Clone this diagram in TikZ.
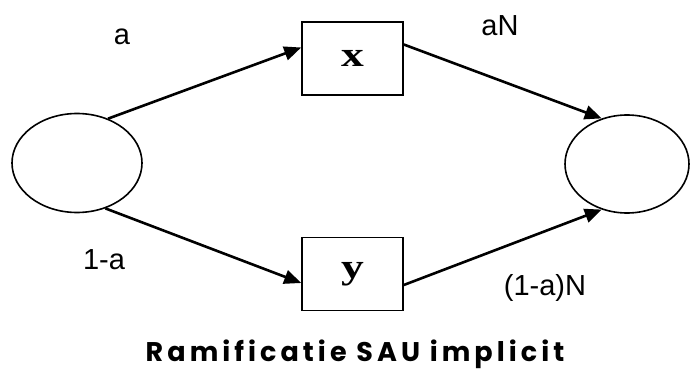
\documentclass[tikz,border=0pt]{standalone}
\usepackage{fontspec}
\usepackage{graphicx}
\setmainfont{Liberation Sans}
\newfontfamily\boxfont{Liberation Serif}
\newfontfamily\titlefont[LetterSpace=15]{Poppins}
\usetikzlibrary{shapes.geometric,arrows.meta}
\newcommand{\wide}[1]{\scalebox{1.3}[1]{#1}}
\begin{document}
\begin{tikzpicture}[x=1pt,y=-1pt,
  state/.style={ellipse,draw,line width=1.6pt,inner sep=0pt},
  block/.style={rectangle,draw,line width=1.6pt,minimum width=101pt,minimum height=73pt,inner sep=0pt,font=\boxfont\bfseries\fontsize{35}{35}\selectfont},
  flow/.style={line width=2.6pt,-{Triangle[length=17pt,width=14pt]}},
  lbl/.style={font=\fontsize{29}{29}\selectfont,inner sep=0pt}]
\useasboundingbox (0,0) rectangle (690,374);
% source and sink states
\node[state,minimum width=130pt,minimum height=99pt] (L) at (77,163) {};
\node[state,minimum width=124pt,minimum height=98pt] (R) at (627,164) {};
% the two branches
\node[block] (X) at (352.5,58.5) {\wide{x}};
\node[block] (Y) at (352.5,274) {\wide{y}};
% connectors
\draw[flow] (L.55) -- ([yshift=11pt]X.west);
\draw[flow] ([yshift=14pt]X.east) -- (R.119);
\draw[flow] (L.-58) -- ([yshift=-9pt]Y.west);
\draw[flow] ([yshift=-11pt]Y.east) -- (R.-119);
% branch weights
\node[lbl] (la) at (122,37) {a};
\node[lbl] (laN) at (500,26) {aN};
\node[lbl] (l1a) at (104,260) {1-a};
\node[lbl] (l1aN) at (545,288) {(1-a)N};
% caption
\node[font=\titlefont\bfseries\fontsize{27}{27}\selectfont] (cap) at (355,354) {Ramificatie SAU implicit};
\end{tikzpicture}
\end{document}
